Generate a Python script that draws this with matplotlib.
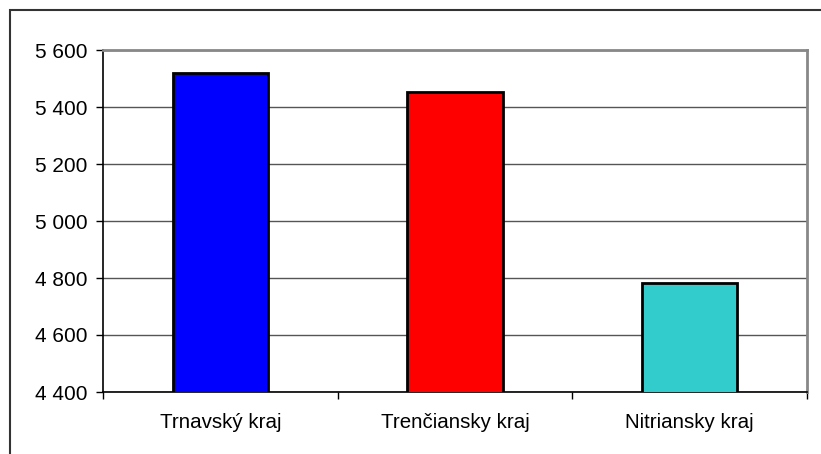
import matplotlib
matplotlib.use("Agg")
import matplotlib.pyplot as plt
from matplotlib.ticker import FuncFormatter, FixedLocator
from matplotlib.patches import Rectangle

categories = ["Trnavský kraj", "Trenčiansky kraj", "Nitriansky kraj"]
values = [5520, 5452, 4783]
colors = ["#0000FF", "#FF0000", "#33CCCC"]
yticks = [4400, 4600, 4800, 5000, 5200, 5400, 5600]

plt.rcParams['font.family'] = ['Liberation Sans', 'DejaVu Sans']

W, H = 821, 454
fig = plt.figure(figsize=(W / 100, H / 100), dpi=100)
fig.patch.set_facecolor("white")

# outer chart-area frame (extends beyond right/bottom edges)
fig.patches.append(Rectangle((10 / W, -0.05), 1.1, (H - 10) / H + 0.05,
                             transform=fig.transFigure, fill=False,
                             edgecolor="#333333", linewidth=1.5))

left, right, top, bottom = 103, 807, 50, 392
ax = fig.add_axes([left / W, 1 - bottom / H, (right - left) / W, (bottom - top) / H])

x = list(range(len(categories)))
ax.bar(x, values, width=0.405, color=colors, edgecolor="black", linewidth=2, zorder=3)

ax.set_xlim(-0.5, len(categories) - 0.5)
ax.set_ylim(4400, 5600)
ax.set_yticks(yticks)
ax.yaxis.set_major_formatter(FuncFormatter(lambda v, p: f"{int(v):,}".replace(",", " ")))
ax.grid(axis="y", color="#555555", linewidth=1, zorder=0)
ax.set_axisbelow(True)

ax.set_xticks(x)
ax.set_xticklabels(categories)
ax.tick_params(axis="x", length=0, pad=15, labelsize=14.8)
ax.xaxis.set_minor_locator(FixedLocator([-0.5, 0.5, 1.5, 2.5]))
ax.tick_params(axis="x", which="minor", length=5, width=1, color="black", direction="out")
ax.tick_params(axis="y", length=5, width=1, direction="out", labelsize=15, pad=6)

for s in ["left", "bottom"]:
    ax.spines[s].set_color("black")
    ax.spines[s].set_linewidth(1.2)
for s in ["top", "right"]:
    ax.spines[s].set_color("#888888")
    ax.spines[s].set_linewidth(2)

fig.savefig("out.png", dpi=100)
